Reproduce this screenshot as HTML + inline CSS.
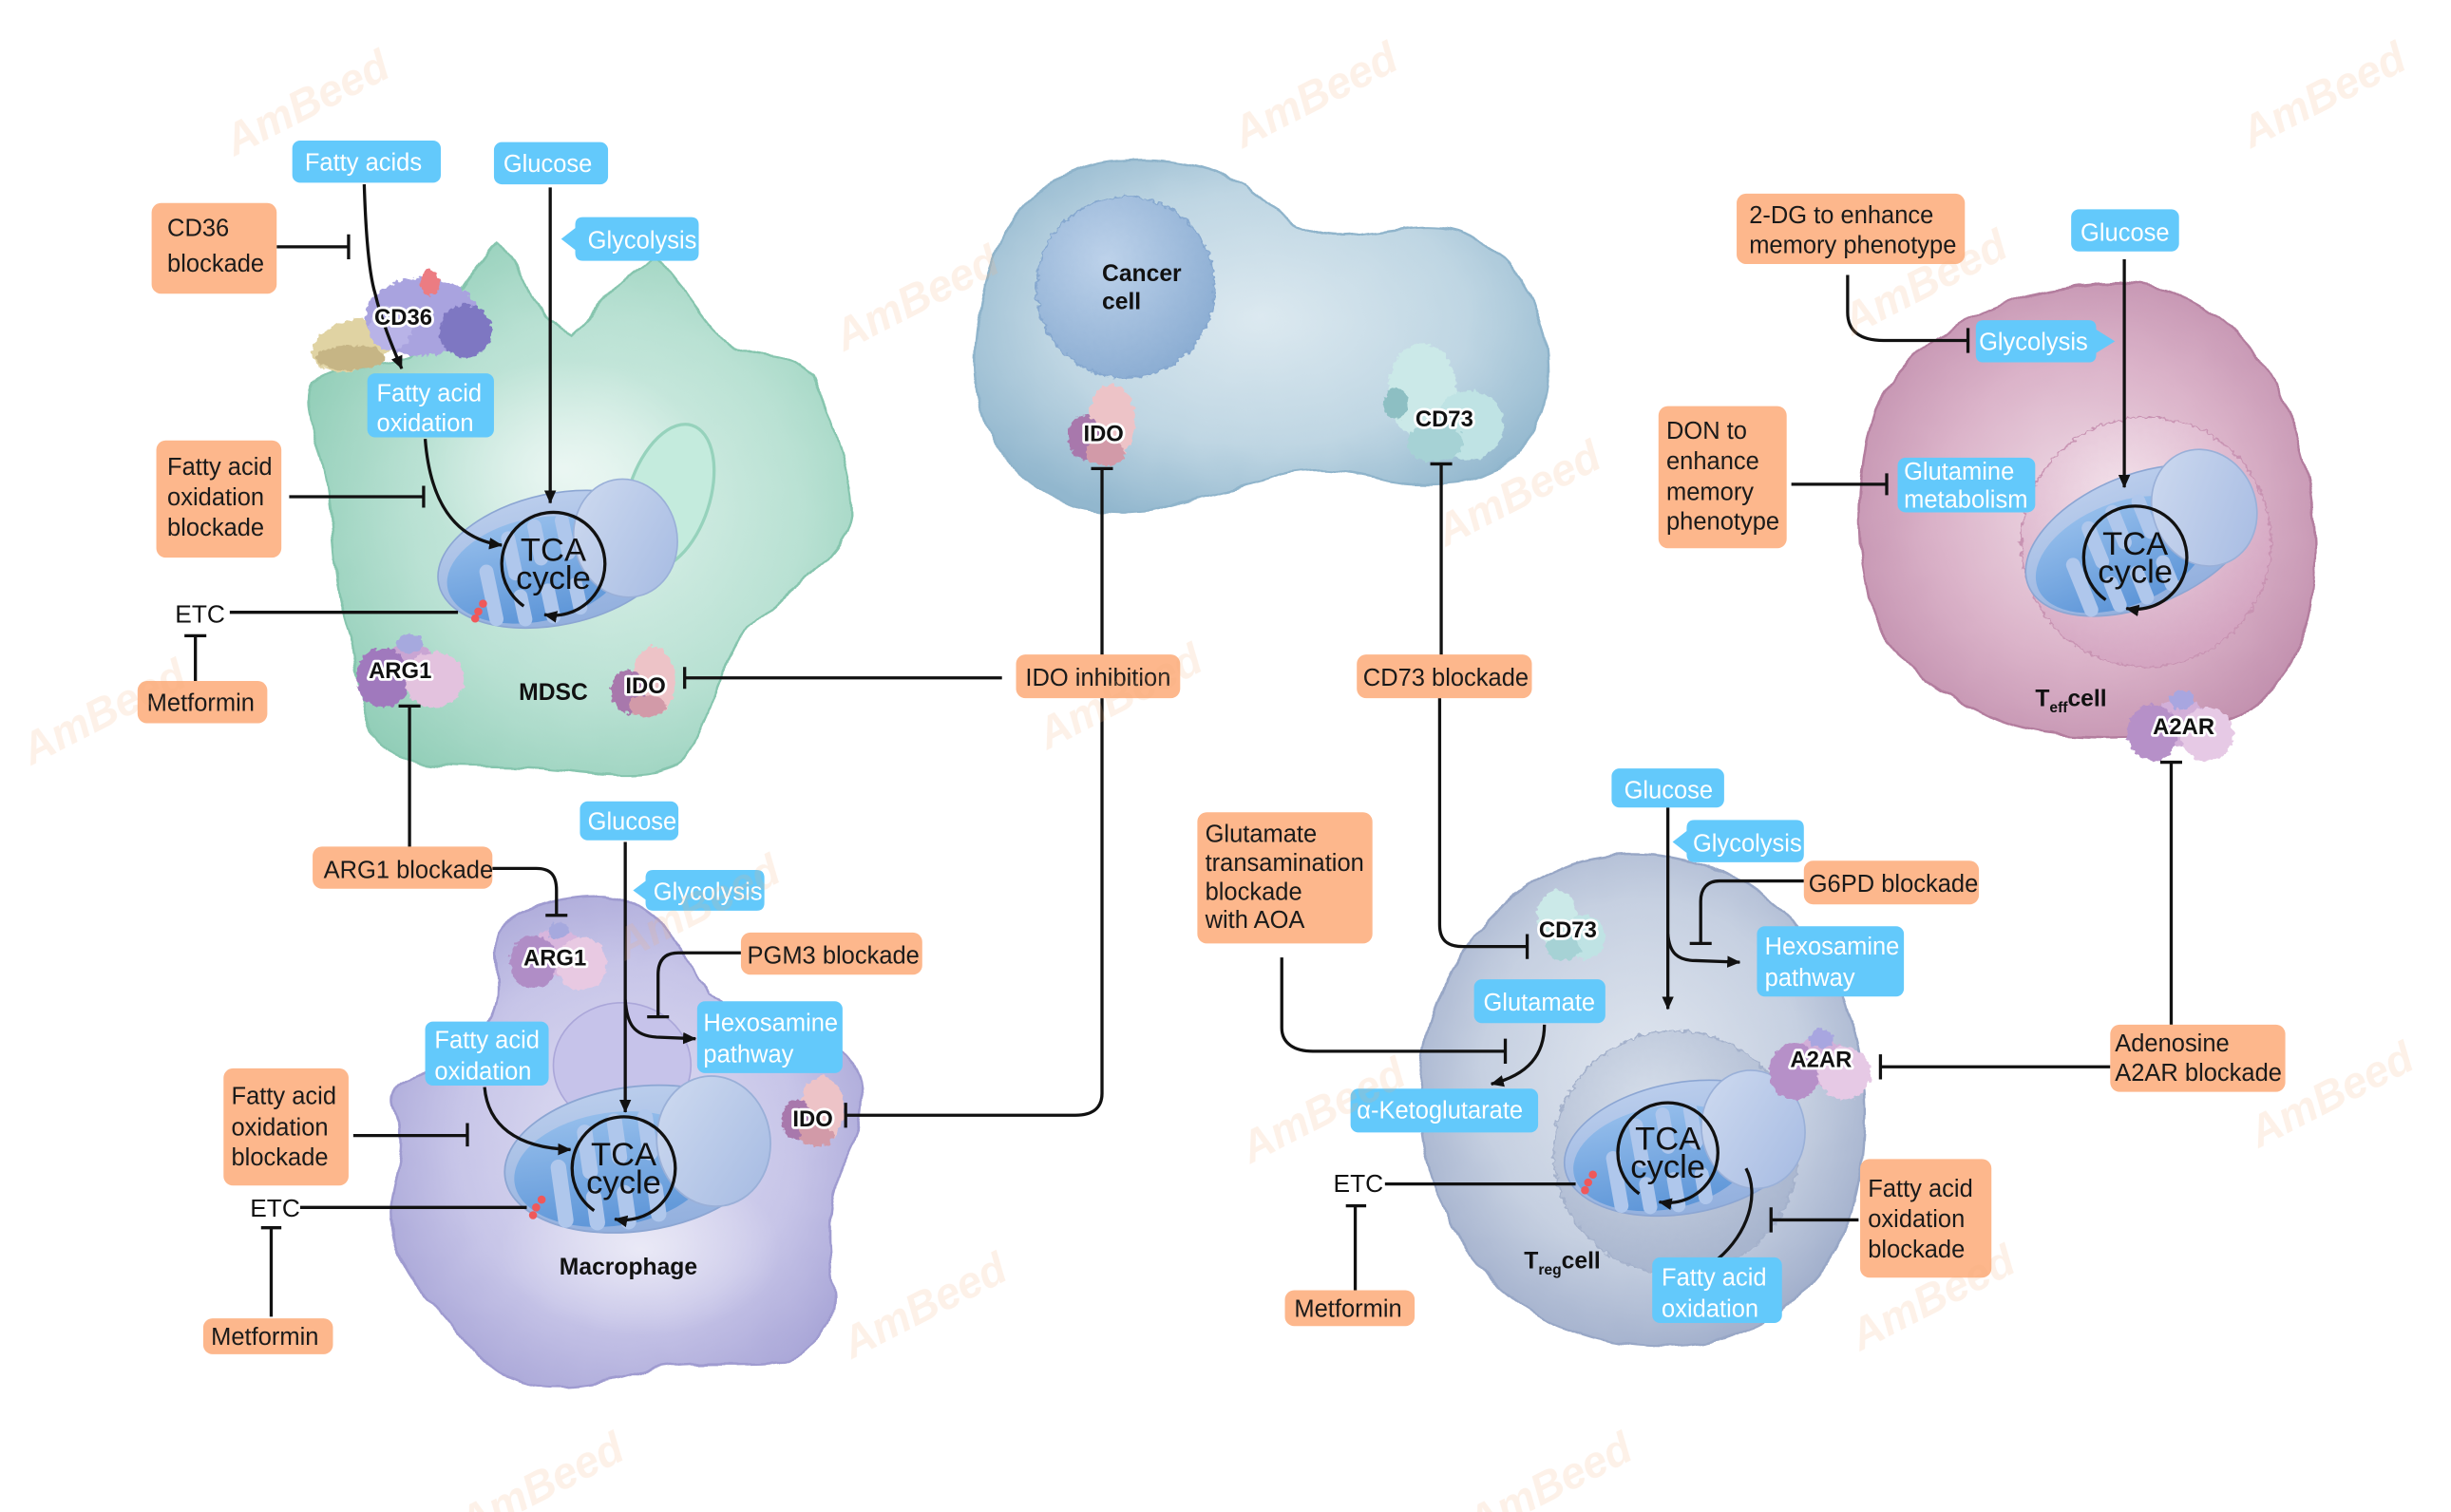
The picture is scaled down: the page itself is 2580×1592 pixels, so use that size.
<!DOCTYPE html>
<html><head><meta charset="utf-8">
<style>
html,body{margin:0;padding:0;background:#fff;}
svg{display:block;}
.ob{fill:#FDB78C;}
.bb{fill:#63C9FB;}
.t{font-family:"Liberation Sans",sans-serif;font-size:15.5px;}
.ot{fill:#1a1a1a;}
.bt{fill:#fff;}
.ln{stroke:#111;stroke-width:2;fill:none;}
.pl{font-family:"Liberation Sans",sans-serif;font-weight:bold;font-size:14.5px;fill:#111;stroke:#fff;stroke-width:3.4px;paint-order:stroke;stroke-linejoin:round;text-anchor:middle;}
.cl{font-family:"Liberation Sans",sans-serif;font-weight:bold;font-size:15px;fill:#111;}
.tca{font-family:"Liberation Sans",sans-serif;font-size:21px;fill:#111;text-anchor:middle;}
.etc{font-family:"Liberation Sans",sans-serif;font-size:16px;fill:#111;}
.wm{font-family:"Liberation Sans",sans-serif;font-weight:bold;font-style:italic;font-size:28px;fill:#F2AE7C;}
</style></head><body>
<svg width="2580" height="1592" viewBox="0 0 1568 968" preserveAspectRatio="none" xmlns="http://www.w3.org/2000/svg" xmlns:xlink="http://www.w3.org/1999/xlink">
<defs>
  <marker id="ar" markerWidth="10" markerHeight="10" refX="8" refY="5" orient="auto" markerUnits="userSpaceOnUse">
    <path d="M0,1.2 L8.5,5 L0,8.8 Z" fill="#111"/>
  </marker>
  <radialGradient id="gMdsc" cx="0.55" cy="0.5" r="0.6">
    <stop offset="0" stop-color="#DCF1EA"/><stop offset="0.6" stop-color="#B9E1D3"/><stop offset="1" stop-color="#92CEB8"/>
  </radialGradient>
  <radialGradient id="gMac" cx="0.5" cy="0.5" r="0.6">
    <stop offset="0" stop-color="#E0DFF3"/><stop offset="0.6" stop-color="#C7C5E8"/><stop offset="1" stop-color="#A5A2D5"/>
  </radialGradient>
  <radialGradient id="gCan" cx="0.5" cy="0.45" r="0.6">
    <stop offset="0" stop-color="#DCE9F0"/><stop offset="0.6" stop-color="#BFD6E3"/><stop offset="1" stop-color="#92B7CE"/>
  </radialGradient>
  <radialGradient id="gCanN" cx="0.4" cy="0.35" r="0.7">
    <stop offset="0" stop-color="#BDD2EA"/><stop offset="1" stop-color="#8AACD2"/>
  </radialGradient>
  <radialGradient id="gTeff" cx="0.5" cy="0.5" r="0.6">
    <stop offset="0" stop-color="#F0DDE7"/><stop offset="0.55" stop-color="#DBB3C9"/><stop offset="1" stop-color="#BF8CAB"/>
  </radialGradient>
  <radialGradient id="gTeffN" cx="0.4" cy="0.3" r="0.7">
    <stop offset="0" stop-color="#F3E1EA"/><stop offset="1" stop-color="#D4A5C1"/>
  </radialGradient>
  <radialGradient id="gTreg" cx="0.5" cy="0.45" r="0.6">
    <stop offset="0" stop-color="#E0E6EF"/><stop offset="0.6" stop-color="#C6D0E1"/><stop offset="1" stop-color="#9DABC9"/>
  </radialGradient>
  <radialGradient id="gTregN" cx="0.4" cy="0.3" r="0.7">
    <stop offset="0" stop-color="#D6DEEA"/><stop offset="1" stop-color="#A8B5CE"/>
  </radialGradient>
  <radialGradient id="gHi" cx="0.5" cy="0.5" r="0.5">
    <stop offset="0" stop-color="#fff" stop-opacity="0.55"/><stop offset="1" stop-color="#fff" stop-opacity="0"/>
  </radialGradient>
  <linearGradient id="gMitoO" x1="0" y1="0" x2="0" y2="1">
    <stop offset="0" stop-color="#BACDEC"/><stop offset="1" stop-color="#93B0DE"/>
  </linearGradient>
  <linearGradient id="gMitoI" x1="0" y1="0" x2="0" y2="1">
    <stop offset="0" stop-color="#94BDEB"/><stop offset="1" stop-color="#5E96D8"/>
  </linearGradient>
  <linearGradient id="gMitoC" x1="0" y1="0" x2="1" y2="1">
    <stop offset="0" stop-color="#CFDBF0"/><stop offset="1" stop-color="#A5BAE2"/>
  </linearGradient>
  <filter id="bump" x="-20%" y="-20%" width="140%" height="140%">
    <feTurbulence type="fractalNoise" baseFrequency="0.28" numOctaves="2" seed="3" result="n"/>
    <feDisplacementMap in="SourceGraphic" in2="n" scale="5" xChannelSelector="R" yChannelSelector="G"/>
  </filter>
  <filter id="soft" x="-10%" y="-10%" width="120%" height="120%">
    <feTurbulence type="fractalNoise" baseFrequency="0.05" numOctaves="2" seed="7" result="n"/>
    <feDisplacementMap in="SourceGraphic" in2="n" scale="6" xChannelSelector="R" yChannelSelector="G"/>
  </filter>
  <g id="mito">
    <ellipse cx="0" cy="0" rx="77" ry="42" fill="url(#gMitoO)" stroke="#8CA6D3" stroke-width="1"/>
    <ellipse cx="-14" cy="4" rx="58" ry="33" fill="url(#gMitoI)"/>
    <g fill="#AFC7EC">
      <rect x="-50" y="-6" width="9" height="40" rx="4.5"/>
      <rect x="-32" y="-24" width="9" height="32" rx="4.5"/>
      <rect x="-32" y="14" width="9" height="24" rx="4.5"/>
      <rect x="-14" y="-28" width="9" height="30" rx="4.5"/>
      <rect x="-14" y="14" width="9" height="26" rx="4.5"/>
      <rect x="4" y="-28" width="9" height="30" rx="4.5"/>
      <rect x="4" y="14" width="9" height="24" rx="4.5"/>
    </g>
    <ellipse cx="46" cy="-4" rx="33" ry="38" fill="url(#gMitoC)" stroke="#9AB0D8" stroke-width="1"/>
  </g>
</defs>

<rect width="1568" height="968" fill="#fff"/>

<!-- ============ CELLS ============ -->
<!-- MDSC -->
<path filter="url(#soft)" d="M200,245 C215,232 240,236 262,228 C285,205 300,175 318,155 C330,165 340,200 365,215 C385,195 405,170 420,165 C440,185 450,210 470,222 C490,230 505,225 520,240 C530,265 545,300 545,330 C540,360 500,380 480,400 C462,420 455,460 438,485 C425,500 390,497 350,492 C300,488 265,495 245,478 C228,460 232,430 222,400 C210,360 215,320 205,290 C198,270 195,255 200,245 Z" fill="url(#gMdsc)" stroke="#86C5AE" stroke-width="1.5"/>
<ellipse cx="360" cy="300" rx="90" ry="70" fill="url(#gHi)"/>
<ellipse cx="428" cy="318" rx="26" ry="48" transform="rotate(18 428 318)" fill="#C4EBDD" stroke="#96D2BC" stroke-width="2"/>
<!-- Macrophage -->
<path filter="url(#soft)" d="M318,600 C322,585 355,572 388,574 C420,578 440,610 453,637 C480,650 530,660 546,680 C556,700 552,720 540,745 C528,765 530,800 534,830 C536,850 515,868 498,872 C470,876 440,870 410,878 C380,888 345,892 322,880 C300,868 290,845 275,833 C258,815 250,795 250,776 C252,755 262,735 255,718 C248,705 250,695 262,690 C290,678 315,665 318,640 C320,625 315,610 318,600 Z" fill="url(#gMac)" stroke="#9F9BD0" stroke-width="1.5"/>
<ellipse cx="410" cy="800" rx="90" ry="55" fill="url(#gHi)"/>
<ellipse cx="398" cy="682" rx="44" ry="40" fill="#C6C3EA" stroke="#ABA7D9" stroke-width="1"/>
<!-- Cancer cell -->
<path filter="url(#soft)" d="M716,103 C750,100 780,108 797,119 C815,132 832,150 852,151 C880,152 905,140 933,148 C962,158 982,185 988,215 C994,245 990,275 962,298 C940,312 905,312 880,306 C860,302 845,298 820,304 C795,312 770,318 740,326 C705,333 670,322 650,300 C630,280 622,250 624,225 C626,190 634,160 650,138 C668,115 690,105 716,103 Z" fill="url(#gCan)" stroke="#8FB4CB" stroke-width="1.5"/>
<ellipse cx="720" cy="184" rx="57" ry="58" fill="url(#gCanN)" stroke="#86A8CF" stroke-width="1" filter="url(#bump)"/>
<!-- Teff -->
<path filter="url(#soft)" d="M1357,181 C1400,182 1440,210 1462,260 C1480,300 1485,350 1478,390 C1470,430 1445,458 1410,466 C1370,474 1320,474 1290,465 C1245,450 1210,425 1198,390 C1186,350 1188,300 1200,262 C1220,215 1290,180 1357,181 Z" fill="url(#gTeff)" stroke="#B37D9E" stroke-width="1.5"/>
<circle cx="1373" cy="347" r="80" fill="url(#gTeffN)" stroke="#C893B2" stroke-width="1" filter="url(#bump)"/>
<!-- Treg -->
<path filter="url(#soft)" d="M1040,547 C1100,545 1150,580 1175,630 C1198,675 1198,740 1180,790 C1160,835 1115,862 1065,862 C1010,862 960,835 935,795 C908,752 902,700 915,655 C935,590 985,549 1040,547 Z" fill="url(#gTreg)" stroke="#98A7C6" stroke-width="1.5"/>
<circle cx="1072" cy="738" r="78" fill="url(#gTregN)" stroke="#A4B1CB" stroke-width="1" filter="url(#bump)"/>

<!-- ============ MITOCHONDRIA ============ -->
<use xlink:href="#mito" href="#mito" transform="translate(356,358) rotate(-12)"/>
<use xlink:href="#mito" href="#mito" transform="translate(407,742) rotate(-8) scale(1.1)"/>
<use xlink:href="#mito" href="#mito" transform="translate(1369,346) rotate(-22)"/>
<use xlink:href="#mito" href="#mito" transform="translate(1077,735) rotate(-10)"/>

<!-- red dots -->
<g fill="#F0585A">
  <circle cx="309" cy="386.5" r="2.6"/><circle cx="306" cy="391.5" r="2.6"/><circle cx="304" cy="396" r="2.6"/>
  <circle cx="346.5" cy="768" r="2.6"/><circle cx="343" cy="773" r="2.6"/><circle cx="341" cy="778" r="2.6"/>
  <circle cx="1019" cy="752" r="2.6"/><circle cx="1016" cy="757" r="2.6"/><circle cx="1014" cy="762" r="2.6"/>
</g>

<!-- TCA circles -->
<g class="ln" stroke-width="2.2">
  <path d="M335.07,388.03 A33,33 0 1 1 348.27,393.5" marker-end="url(#ar)"/>
  <path d="M380.07,775.03 A33,33 0 1 1 393.27,780.5" marker-end="url(#ar)"/>
  <path d="M1347.07,384.03 A33,33 0 1 1 1360.27,389.5" marker-end="url(#ar)"/>
  <path d="M1048.64,764.21 A32,32 0 1 1 1061.44,769.51" marker-end="url(#ar)"/>
</g>
<text class="tca" x="354" y="359">TCA</text><text class="tca" x="354" y="377">cycle</text>
<text class="tca" x="399" y="746">TCA</text><text class="tca" x="399" y="764">cycle</text>
<text class="tca" x="1366" y="355">TCA</text><text class="tca" x="1366" y="373">cycle</text>
<text class="tca" x="1067" y="736">TCA</text><text class="tca" x="1067" y="754">cycle</text>

<!-- ============ PROTEINS ============ -->
<g filter="url(#bump)">
  <!-- CD36 -->
  <ellipse cx="226" cy="221" rx="27" ry="16" transform="rotate(-15 226 221)" fill="#E0D3A3"/>
  <ellipse cx="224" cy="229" rx="22" ry="8" fill="#C6B585"/>
  <ellipse cx="270" cy="203" rx="36" ry="25" fill="#A9A3DF"/>
  <ellipse cx="298" cy="212" rx="17" ry="17" fill="#7E77C2"/>
  <ellipse cx="250" cy="210" rx="14" ry="14" fill="#B8B3E7"/>
  <ellipse cx="275" cy="181" rx="6" ry="8" fill="#EC7C82"/>
  <!-- ARG1 MDSC -->
  <ellipse cx="262" cy="427" rx="18" ry="15" fill="#C9A5D3"/>
  <ellipse cx="245" cy="434" rx="17" ry="19" fill="#A079BD"/>
  <ellipse cx="278" cy="435" rx="19" ry="18" fill="#E3C2DE"/>
  <ellipse cx="262" cy="412" rx="8" ry="6" fill="#A6A9DE"/>
  <!-- IDO MDSC -->
  <ellipse cx="418" cy="436" rx="14" ry="22" fill="#EDC3C7"/>
  <ellipse cx="402" cy="443" rx="11" ry="14" fill="#A878AC"/>
  <ellipse cx="414" cy="452" rx="12" ry="7" fill="#D29AA8"/>
  <!-- ARG1 Mac -->
  <ellipse cx="356" cy="610" rx="18" ry="15" fill="#D8B6DD"/>
  <ellipse cx="341" cy="616" rx="15" ry="17" fill="#B08DC6"/>
  <ellipse cx="372" cy="617" rx="16" ry="17" fill="#E8C9E2"/>
  <ellipse cx="357" cy="596" rx="7" ry="5" fill="#A6A9DE"/>
  <!-- IDO Mac -->
  <ellipse cx="526" cy="710" rx="14" ry="21" fill="#EDC3C7"/>
  <ellipse cx="510" cy="717" rx="10" ry="13" fill="#A878AC"/>
  <ellipse cx="522" cy="727" rx="11" ry="7" fill="#D29AA8"/>
  <!-- IDO cancer -->
  <ellipse cx="711" cy="270" rx="15" ry="24" fill="#EDC3C7"/>
  <ellipse cx="694" cy="280" rx="11" ry="14" fill="#A878AC"/>
  <ellipse cx="707" cy="290" rx="13" ry="8" fill="#D29AA8"/>
  <!-- CD73 cancer -->
  <ellipse cx="910" cy="250" rx="22" ry="30" fill="#CBE9E8"/>
  <ellipse cx="940" cy="272" rx="22" ry="22" fill="#BFE3E4"/>
  <ellipse cx="918" cy="283" rx="18" ry="13" fill="#A6D2D5"/>
  <ellipse cx="893" cy="258" rx="8" ry="10" fill="#8DBFC3"/>
  <!-- CD73 Treg -->
  <ellipse cx="996" cy="588" rx="13" ry="18" fill="#CBE9E8"/>
  <ellipse cx="1014" cy="600" rx="13" ry="14" fill="#BFE3E4"/>
  <ellipse cx="1000" cy="607" rx="11" ry="8" fill="#A6D2D5"/>
  <!-- A2AR Treg -->
  <ellipse cx="1164" cy="680" rx="18" ry="15" fill="#D2AFD8"/>
  <ellipse cx="1148" cy="686" rx="16" ry="18" fill="#B690C8"/>
  <ellipse cx="1180" cy="687" rx="17" ry="17" fill="#E6C9E5"/>
  <ellipse cx="1165" cy="665" rx="8" ry="6" fill="#A8A6E0"/>
  <!-- A2AR Teff -->
  <ellipse cx="1395" cy="463" rx="19" ry="15" fill="#D2AFD8"/>
  <ellipse cx="1377" cy="469" rx="16" ry="18" fill="#B690C8"/>
  <ellipse cx="1412" cy="470" rx="17" ry="17" fill="#E6C9E5"/>
  <ellipse cx="1396" cy="448" rx="8" ry="6" fill="#A8A6E0"/>
</g>

<!-- ============ CONNECTORS ============ -->
<g class="ln">
  <!-- MDSC -->
  <path d="M177,158 H223 M223,150 V166"/>
  <path d="M233,118 C234,150 236,175 240,188 C244,205 251,222 257,236" marker-end="url(#ar)"/>
  <path d="M352,120 V322" marker-end="url(#ar)"/>
  <path d="M272,281 C275,320 290,345 321,349" marker-end="url(#ar)"/>
  <path d="M185,318 H271 M271,311 V325"/>
  <path d="M147,392 H293"/>
  <path d="M125,436 V407 M118,407 H132"/>
  <path d="M262,545 V452 M255,452 H269"/>
  <path d="M641,434 H438 M438,427 V441"/>
  <!-- Macrophage -->
  <path d="M315,556 H343 C352,556 356,560 356,570 V586 M349,586 H363"/>
  <path d="M400,539 V712" marker-end="url(#ar)"/>
  <path d="M400,640 C401,655 405,663 420,664 L445,665" marker-end="url(#ar)"/>
  <path d="M474,610 H434 C426,610 421,614 421,624 V651 M414,651 H428"/>
  <path d="M310,696 C312,720 330,735 365,736" marker-end="url(#ar)"/>
  <path d="M226,727 H299 M299,719 V734"/>
  <path d="M192,773 H337"/>
  <path d="M173.5,843 V786 M167,786 H180"/>
  <path d="M705,447 V700 C705,710 698,714 688,714 H541 M541,706 V722"/>
  <!-- Center -->
  <path d="M705,420 V300 M698,300 H712"/>
  <path d="M922,420 V297 M915,297 H929"/>
  <path d="M921,447 V592 C921,602 926,606 936,606 H977 M977,598 V614"/>
  <!-- Treg -->
  <path d="M1067,517 V646" marker-end="url(#ar)"/>
  <path d="M1067,598 C1068,610 1073,615 1085,615 L1113,616" marker-end="url(#ar)"/>
  <path d="M1154,564 H1100 C1092,564 1088,569 1088,577 V604 M1081,604 H1095"/>
  <path d="M820,613 V658 C820,668 828,673 840,673 H963 M963,665 V681"/>
  <path d="M988,656 C988,675 978,688 954,694" marker-end="url(#ar)"/>
  <path d="M886,758 H1008"/>
  <path d="M867,826 V772 M861,772 H874"/>
  <path d="M1099,806 C1118,790 1126,765 1117,748"/>
  <path d="M1189,781 H1133 M1133,773 V789"/>
  <path d="M1350,683 H1203 M1203,675 V691"/>
  <path d="M1389,656 V488 M1382,488 H1396"/>
  <!-- Teff -->
  <path d="M1359,166 V312" marker-end="url(#ar)"/>
  <path d="M1182,176 V200 C1182,212 1190,218 1205,218 H1259 M1259,210 V226"/>
  <path d="M1146,310 H1207 M1207,303 V317"/>
</g>

<!-- protein labels -->
<text class="pl" x="258" y="208">CD36</text>
<text class="pl" x="256" y="434">ARG1</text>
<text class="pl" x="413" y="444">IDO</text>
<text class="pl" x="355" y="618">ARG1</text>
<text class="pl" x="520" y="721">IDO</text>
<text class="pl" x="706" y="282.5">IDO</text>
<text class="pl" x="924" y="273">CD73</text>
<text class="pl" x="1003" y="600">CD73</text>
<text class="pl" x="1165" y="683">A2AR</text>
<text class="pl" x="1397" y="470">A2AR</text>

<!-- cell labels -->
<text class="cl" x="354" y="448" text-anchor="middle">MDSC</text>
<text class="cl" x="402" y="816" text-anchor="middle">Macrophage</text>
<text class="cl" x="705" y="180">Cancer</text>
<text class="cl" x="705" y="198">cell</text>
<text class="cl" x="1302" y="452">T<tspan font-size="9.5" dy="4">eff</tspan><tspan dy="-4">cell</tspan></text>
<text class="cl" x="975" y="812">T<tspan font-size="9.5" dy="4">reg</tspan><tspan dy="-4">cell</tspan></text>

<!-- ETC -->
<text class="etc" x="112" y="398.5">ETC</text>
<text class="etc" x="160" y="779">ETC</text>
<text class="etc" x="853" y="763">ETC</text>

<!-- ============ BOXES ============ -->
<!-- blue boxes -->
<g class="bb">
  <rect x="187" y="90" width="95" height="27" rx="5"/>
  <rect x="316" y="91" width="73" height="27" rx="5"/>
  <path d="M373,139 H442 Q447,139 447,144 V162 Q447,167 442,167 H373 Q368,167 368,162 V160 L359,153 L368,146 V144 Q368,139 373,139 Z"/>
  <rect x="235" y="239" width="81" height="41" rx="5"/>
  <rect x="371" y="513" width="63" height="25" rx="5"/>
  <path d="M418,557 H484 Q489,557 489,562 V578 Q489,583 484,583 H418 Q413,583 413,578 V576 L405,570 L413,564 V562 Q413,557 418,557 Z"/>
  <rect x="446" y="641" width="93" height="46" rx="5"/>
  <rect x="272" y="654" width="79" height="41" rx="5"/>
  <rect x="1031" y="492" width="72" height="25" rx="5"/>
  <path d="M1084,525 H1149 Q1154,525 1154,530 V547 Q1154,552 1149,552 H1084 Q1079,552 1079,547 V546 L1070,539 L1079,532 V530 Q1079,525 1084,525 Z"/>
  <rect x="1124" y="593" width="94" height="45" rx="5"/>
  <rect x="943" y="627" width="84" height="28" rx="5"/>
  <rect x="864" y="697" width="120" height="28" rx="5"/>
  <rect x="1057" y="805" width="83" height="42" rx="5"/>
  <rect x="1325" y="134" width="69" height="27" rx="5"/>
  <path d="M1269,205 H1336 Q1341,205 1341,210 V211 L1353,218.5 L1341,226 V227 Q1341,232 1336,232 H1269 Q1264,232 1264,227 V210 Q1264,205 1269,205 Z"/>
  <rect x="1214" y="293" width="88" height="35" rx="5"/>
</g>
<!-- orange boxes -->
<g class="ob">
  <rect x="97" y="130" width="80" height="58" rx="6"/>
  <rect x="100" y="282" width="80" height="75" rx="6"/>
  <rect x="88" y="436" width="83" height="27" rx="6"/>
  <rect x="200" y="542" width="115" height="27" rx="6"/>
  <rect x="474" y="597" width="116" height="27" rx="6"/>
  <rect x="143" y="684" width="80" height="75" rx="6"/>
  <rect x="130" y="844" width="83" height="23" rx="6"/>
  <rect x="650" y="419" width="105" height="28" rx="6"/>
  <rect x="868" y="419" width="112" height="28" rx="6"/>
  <rect x="766" y="520" width="112" height="84" rx="6"/>
  <rect x="1154" y="551" width="112" height="28" rx="6"/>
  <rect x="822" y="826" width="83" height="23" rx="6"/>
  <rect x="1190" y="742" width="84" height="76" rx="6"/>
  <rect x="1350" y="656" width="112" height="43" rx="6"/>
  <rect x="1111" y="124" width="146" height="45" rx="6"/>
  <rect x="1061" y="260" width="82" height="91" rx="6"/>
</g>

<!-- blue texts -->
<g class="t bt">
  <text x="195" y="109">Fatty acids</text>
  <text x="322" y="110">Glucose</text>
  <text x="376" y="159">Glycolysis</text>
  <text x="241" y="257">Fatty acid</text><text x="241" y="276">oxidation</text>
  <text x="376" y="531">Glucose</text>
  <text x="418" y="576">Glycolysis</text>
  <text x="450" y="660">Hexosamine</text><text x="450" y="680">pathway</text>
  <text x="278" y="671">Fatty acid</text><text x="278" y="691">oxidation</text>
  <text x="1039" y="511">Glucose</text>
  <text x="1083" y="545">Glycolysis</text>
  <text x="1129" y="611">Hexosamine</text><text x="1129" y="631">pathway</text>
  <text x="949" y="647">Glutamate</text>
  <text x="868" y="716">α-Ketoglutarate</text>
  <text x="1063" y="823">Fatty acid</text><text x="1063" y="843">oxidation</text>
  <text x="1331" y="154">Glucose</text>
  <text x="1266" y="224">Glycolysis</text>
  <text x="1218" y="307">Glutamine</text><text x="1218" y="325">metabolism</text>
</g>
<!-- orange texts -->
<g class="t ot">
  <text x="107" y="151">CD36</text><text x="107" y="174">blockade</text>
  <text x="107" y="304">Fatty acid</text><text x="107" y="323.5">oxidation</text><text x="107" y="343">blockade</text>
  <text x="94" y="455">Metformin</text>
  <text x="207" y="562">ARG1 blockade</text>
  <text x="478" y="617">PGM3 blockade</text>
  <text x="148" y="707">Fatty acid</text><text x="148" y="727">oxidation</text><text x="148" y="746">blockade</text>
  <text x="135" y="861">Metformin</text>
  <text x="656" y="439">IDO inhibition</text>
  <text x="872" y="439">CD73 blockade</text>
  <text x="771" y="539">Glutamate</text><text x="771" y="557.5">transamination</text><text x="771" y="576">blockade</text><text x="771" y="594">with AOA</text>
  <text x="1157" y="571">G6PD blockade</text>
  <text x="828" y="843">Metformin</text>
  <text x="1195" y="766">Fatty acid</text><text x="1195" y="785.5">oxidation</text><text x="1195" y="805">blockade</text>
  <text x="1353" y="673">Adenosine</text><text x="1353" y="692">A2AR blockade</text>
  <text x="1119" y="143">2-DG to enhance</text><text x="1119" y="162">memory phenotype</text>
  <text x="1066" y="281">DON to</text><text x="1066" y="300.5">enhance</text><text x="1066" y="320">memory</text><text x="1066" y="339">phenotype</text>
</g>

<!-- ============ WATERMARKS ============ -->
<g opacity="0.18">
  <g transform="translate(150,100) rotate(-27)"><text class="wm" x="0" y="0">AmBeed</text></g>
  <g transform="translate(795,95) rotate(-27)"><text class="wm" x="0" y="0">AmBeed</text></g>
  <g transform="translate(1440,95) rotate(-27)"><text class="wm" x="0" y="0">AmBeed</text></g>
  <g transform="translate(540,225) rotate(-27)"><text class="wm" x="0" y="0">AmBeed</text></g>
  <g transform="translate(1185,215) rotate(-27)"><text class="wm" x="0" y="0">AmBeed</text></g>
  <g transform="translate(925,350) rotate(-27)"><text class="wm" x="0" y="0">AmBeed</text></g>
  <g transform="translate(670,480) rotate(-27)"><text class="wm" x="0" y="0">AmBeed</text></g>
  <g transform="translate(20,490) rotate(-27)"><text class="wm" x="0" y="0">AmBeed</text></g>
  <g transform="translate(400,615) rotate(-27)"><text class="wm" x="0" y="0">AmBeed</text></g>
  <g transform="translate(1445,735) rotate(-27)"><text class="wm" x="0" y="0">AmBeed</text></g>
  <g transform="translate(545,870) rotate(-27)"><text class="wm" x="0" y="0">AmBeed</text></g>
  <g transform="translate(800,745) rotate(-27)"><text class="wm" x="0" y="0">AmBeed</text></g>
  <g transform="translate(1190,865) rotate(-27)"><text class="wm" x="0" y="0">AmBeed</text></g>
  <g transform="translate(300,985) rotate(-27)"><text class="wm" x="0" y="0">AmBeed</text></g>
  <g transform="translate(945,985) rotate(-27)"><text class="wm" x="0" y="0">AmBeed</text></g>
</g>
</svg>
</body></html>
